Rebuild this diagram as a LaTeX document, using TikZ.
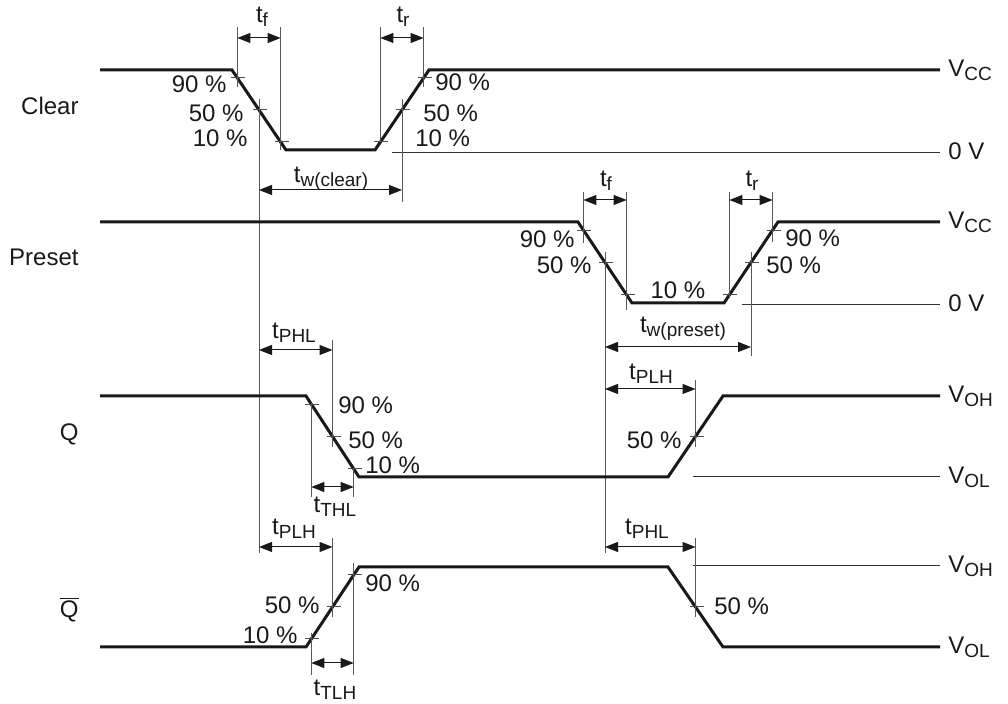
\documentclass[tikz,border=0pt]{standalone}
\usepackage{fontspec}
\setmainfont{Liberation Sans}
\usetikzlibrary{arrows.meta, calc}
\newcommand{\subind}[1]{\raisebox{-2pt}{\fontsize{9.5}{10}\selectfont #1}}
\tikzset{
  senal/.style={line width=1.5pt, black!90},
  nivel/.style={line width=0.5pt, black!80},
  guia/.style={line width=0.5pt, black!65},
  marca/.style={line width=0.5pt, black!70},
  cota/.style={{Triangle[length=6.5pt,width=5pt]}-{Triangle[length=6.5pt,width=5pt]},
    line width=0.5pt, black!90},
  texto/.style={font=\fontsize{12}{14}\selectfont, inner sep=0pt, text=black!90},
  porcIzq/.style={texto, anchor=east},
  porcDer/.style={texto, anchor=west},
  nombreSenal/.style={texto, anchor=base east},
  nombreNivel/.style={texto, anchor=base west},
  nombreTiempo/.style={texto, anchor=base},
}

\begin{document}
\begin{tikzpicture}[x=0.5pt, y=-0.5pt]
    \useasboundingbox (0,0) rectangle (1008,704);

    % Clear
    \node[nombreSenal] (clear) at (79,115) {Clear};
    \draw[senal] (100,70) -- (232,70) coordinate (clrA) -- (286,150) coordinate (clrB)
      -- (375,150) coordinate (clrC) -- (429,70) coordinate (clrD) -- (940,70) coordinate (clrFin);
    \draw[nivel] (392,153) coordinate (clrCero) -- (940,153) coordinate (clrCeroFin);
    \coordinate (clr90f) at ($(clrA)!0.1!(clrB)$);
    \coordinate (clr50f) at ($(clrA)!0.5!(clrB)$);
    \coordinate (clr10f) at ($(clrA)!0.9!(clrB)$);
    \coordinate (clr10r) at ($(clrC)!0.1!(clrD)$);
    \coordinate (clr50r) at ($(clrC)!0.5!(clrD)$);
    \coordinate (clr90r) at ($(clrC)!0.9!(clrD)$);
    \draw[guia] (clr90f |- 0,27) -- (clr90f |- 0,87);
    \draw[guia] (clr10f |- 0,27) -- (clr10f |- 0,150);
    \draw[guia] (clr10r |- 0,27) -- (clr10r |- 0,142);
    \draw[guia] (clr90r |- 0,27) -- (clr90r |- 0,87);
    \draw[guia] (clr50f |- 0,99) -- (clr50f |- 0,553);
    \draw[guia] (clr50r |- 0,99) -- (clr50r |- 0,202);
    \draw[cota] (clr90f |- 0,38) -- (clr10f |- 0,38);
    \draw[cota] (clr10r |- 0,38) -- (clr90r |- 0,38);
    \draw[cota] (clr50f |- 0,190) -- (clr50r |- 0,190);
    \node[nombreTiempo] (tfClr) at (262,23) {t\subind{f}};
    \node[nombreTiempo] (trClr) at (403,23) {t\subind{r}};
    \node[nombreTiempo] (twClr) at (331,183) {t\subind{w(clear)}};
    \node[porcIzq] (p90fClr) at (227,84) {90 \%};
    \node[porcIzq] (p50fClr) at (244,113) {50 \%};
    \node[porcIzq] (p10fClr) at (248,138) {10 \%};
    \node[porcDer] (p90rClr) at (435,82) {90 \%};
    \node[porcDer] (p50rClr) at (423,113) {50 \%};
    \node[porcDer] (p10rClr) at (415,138) {10 \%};

    % Preset
    \node[nombreSenal] (preset) at (79,266) {Preset};
    \draw[senal] (100,222) -- (578,222) coordinate (preA) -- (632,303) coordinate (preB)
      -- (724,303) coordinate (preC) -- (778,222) coordinate (preD) -- (940,222) coordinate (preFin);
    \draw[nivel] (742,305) coordinate (preCero) -- (940,305) coordinate (preCeroFin);
    \coordinate (pre90f) at ($(preA)!0.1!(preB)$);
    \coordinate (pre50f) at ($(preA)!0.5!(preB)$);
    \coordinate (pre10f) at ($(preA)!0.9!(preB)$);
    \coordinate (pre10r) at ($(preC)!0.1!(preD)$);
    \coordinate (pre50r) at ($(preC)!0.5!(preD)$);
    \coordinate (pre90r) at ($(preC)!0.9!(preD)$);
    \draw[guia] (pre90f |- 0,192) -- (pre90f |- 0,243);
    \draw[guia] (pre10f |- 0,192) -- (pre10f |- 0,310);
    \draw[guia] (pre10r |- 0,192) -- (pre10r |- 0,298);
    \draw[guia] (pre90r |- 0,192) -- (pre90r |- 0,242);
    \draw[guia] (pre50f |- 0,252) -- (pre50f |- 0,553);
    \draw[guia] (pre50r |- 0,252) -- (pre50r |- 0,356);
    \draw[cota] (pre90f |- 0,200) -- (pre10f |- 0,200);
    \draw[cota] (pre10r |- 0,200) -- (pre90r |- 0,200);
    \draw[cota] (pre50f |- 0,347) -- (pre50r |- 0,347);
    \node[nombreTiempo] (tfPre) at (606,187) {t\subind{f}};
    \node[nombreTiempo] (trPre) at (752,187) {t\subind{r}};
    \node[nombreTiempo] (twPre) at (683,333) {t\subind{w(preset)}};
    \node[porcIzq] (p90fPre) at (575,239) {90 \%};
    \node[porcIzq] (p50fPre) at (592,265) {50 \%};
    \node[texto] (p10Pre) at (678,290) {10 \%};
    \node[porcDer] (p90rPre) at (785,238) {90 \%};
    \node[porcDer] (p50rPre) at (766,265) {50 \%};

    % Q
    \node[nombreSenal] (q) at (79,441) {Q};
    \draw[senal] (100,396) -- (306,396) coordinate (qA) -- (359,477) coordinate (qB)
      -- (668,477) coordinate (qC) -- (723,396) coordinate (qD) -- (940,396) coordinate (qFin);
    \draw[nivel] (693,477) coordinate (qBajo) -- (940,477) coordinate (qBajoFin);
    \coordinate (q90f) at ($(qA)!0.1!(qB)$);
    \coordinate (q50f) at ($(qA)!0.5!(qB)$);
    \coordinate (q10f) at ($(qA)!0.9!(qB)$);
    \coordinate (q50r) at ($(qC)!0.5!(qD)$);
    \draw[guia] (q50f |- 0,340) -- (q50f |- 0,447);
    \draw[guia] (q90f |- 0,403) -- (q90f |- 0,497);
    \draw[guia] (q10f |- 0,469) -- (q10f |- 0,497);
    \draw[guia] (q50r |- 0,380) -- (q50r |- 0,447);
    \draw[cota] (clr50f |- 0,350) -- (q50f |- 0,350);
    \draw[cota] (q90f |- 0,487) -- (q10f |- 0,487);
    \draw[cota] (pre50f |- 0,389) -- (q50r |- 0,389);
    \node[nombreTiempo] (tphlQ) at (294,339) {t\subind{PHL}};
    \node[nombreTiempo] (tthlQ) at (335,513) {t\subind{THL}};
    \node[nombreTiempo] (tplhQ) at (651,380) {t\subind{PLH}};
    \node[porcDer] (p90fQ) at (338,405) {90 \%};
    \node[porcDer] (p50fQ) at (348,440) {50 \%};
    \node[porcDer] (p10fQ) at (365,465) {10 \%};
    \node[porcIzq] (p50rQ) at (682,440) {50 \%};

    % Q negada
    \node[nombreSenal] (qn) at (79,618) {$\overline{\mbox{Q}}$};
    \draw[senal] (100,647) -- (306,647) coordinate (qnA) -- (359,567) coordinate (qnB)
      -- (668,567) coordinate (qnC) -- (723,647) coordinate (qnD) -- (940,647) coordinate (qnFin);
    \draw[nivel] (693,566) coordinate (qnAlto) -- (940,566) coordinate (qnAltoFin);
    \coordinate (qn10r) at ($(qnA)!0.1!(qnB)$);
    \coordinate (qn50r) at ($(qnA)!0.5!(qnB)$);
    \coordinate (qn90r) at ($(qnA)!0.9!(qnB)$);
    \coordinate (qn50f) at ($(qnC)!0.5!(qnD)$);
    \draw[guia] (qn50r |- 0,538) -- (qn50r |- 0,617);
    \draw[guia] (qn10r |- 0,633) -- (qn10r |- 0,675);
    \draw[guia] (qn90r |- 0,563) -- (qn90r |- 0,675);
    \draw[guia] (qn50f |- 0,538) -- (qn50f |- 0,617);
    \draw[cota] (clr50f |- 0,547) -- (qn50r |- 0,547);
    \draw[cota] (qn10r |- 0,663) -- (qn90r |- 0,663);
    \draw[cota] (pre50f |- 0,547) -- (qn50f |- 0,547);
    \node[nombreTiempo] (tplhQn) at (294,535) {t\subind{PLH}};
    \node[nombreTiempo] (ttlhQn) at (335,696) {t\subind{TLH}};
    \node[nombreTiempo] (tphlQn) at (647,535) {t\subind{PHL}};
    \node[porcDer] (p90rQn) at (365,583) {90 \%};
    \node[porcIzq] (p50rQn) at (320,605) {50 \%};
    \node[porcIzq] (p10rQn) at (298,635) {10 \%};
    \node[porcDer] (p50fQn) at (714,606) {50 \%};

    % marcas de 10/50/90 %
    \foreach \p in {clr90f,clr50f,clr10f,clr10r,clr50r,clr90r,
                    pre90f,pre50f,pre10f,pre10r,pre50r,pre90r,
                    q90f,q50f,q10f,q50r,qn10r,qn50r,qn90r,qn50f}
      \draw[marca] (\p) ++(-6,0) -- ++(14,0);

    % niveles
    \node[nombreNivel] (vccClr) at (948,77) {V\subind{CC}};
    \node[nombreNivel] (ceroClr) at (948,160) {0 V};
    \node[nombreNivel] (vccPre) at (948,229) {V\subind{CC}};
    \node[nombreNivel] (ceroPre) at (948,312) {0 V};
    \node[nombreNivel] (vohQ) at (948,403) {V\subind{OH}};
    \node[nombreNivel] (volQ) at (948,484) {V\subind{OL}};
    \node[nombreNivel] (vohQn) at (948,573) {V\subind{OH}};
    \node[nombreNivel] (volQn) at (948,654) {V\subind{OL}};
  \end{tikzpicture}
\end{document}
